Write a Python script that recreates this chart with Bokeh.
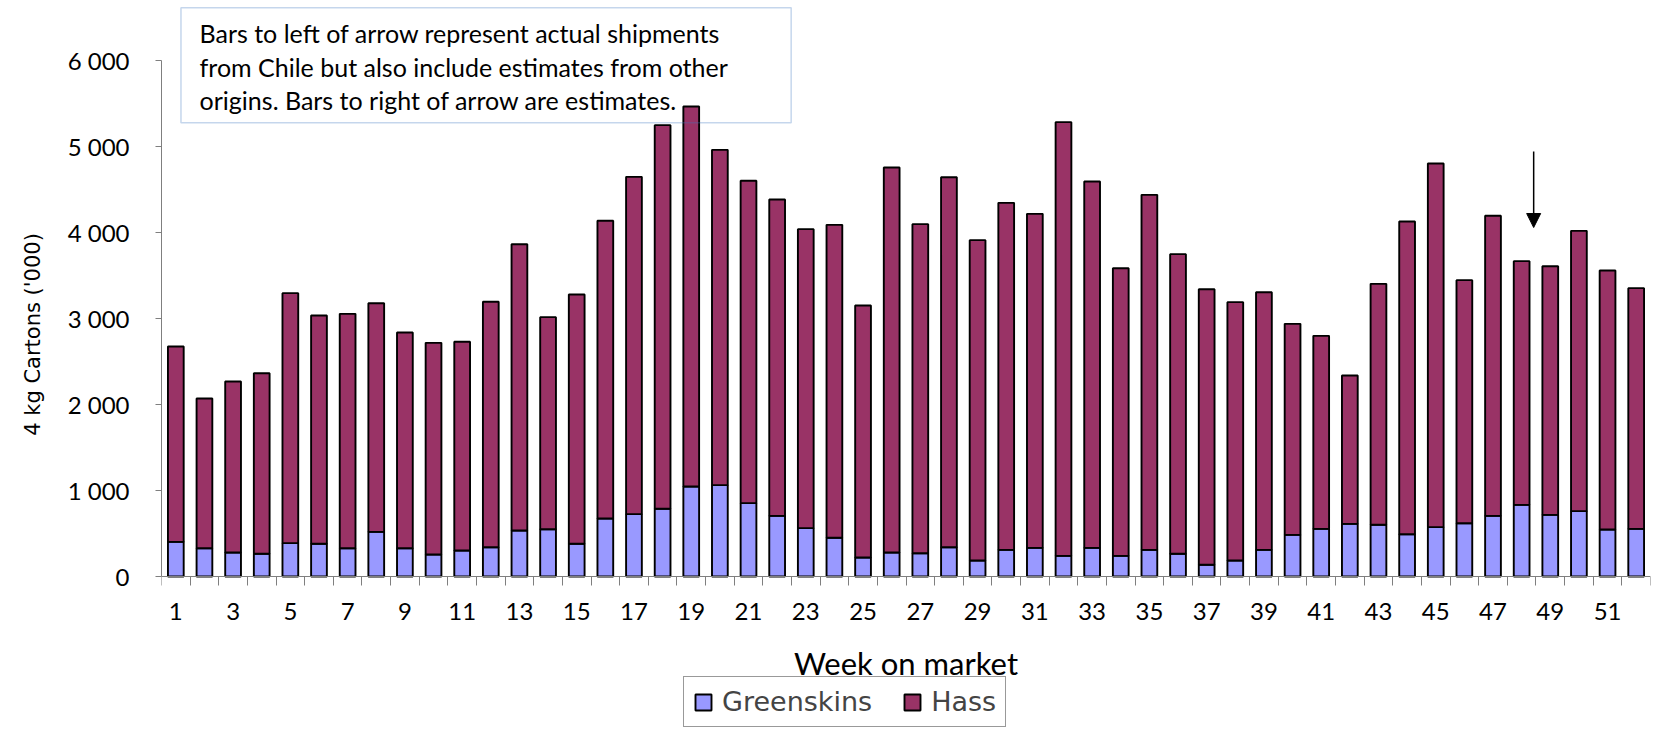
from bokeh.plotting import figure
from bokeh.models import (Range1d, FixedTicker, BoxAnnotation, Arrow, NormalHead,
                          Legend, LegendItem, ColumnDataSource)
from bokeh.core.properties import value
from bokeh.embed import file_html
from bokeh.resources import INLINE

# ---------------- data ----------------
weeks = list(range(1, 53))
greenskins = [403, 329, 279, 264, 388, 380, 329, 519, 329, 256, 302, 341, 535,
              550, 380, 674, 725, 787, 1047, 1062, 853, 705, 562, 450, 221, 279,
              271, 341, 186, 310, 333, 240, 333, 240, 310, 264, 136, 186, 310,
              484, 554, 612, 601, 492, 574, 620, 705, 833, 717, 760, 547, 554]
hass = [2271, 1741, 1988, 2100, 2907, 2655, 2725, 2659, 2508, 2461, 2427, 2853, 3329,
        2466, 2899, 3462, 3922, 4461, 4418, 3899, 3748, 3679, 3477, 3639, 2930, 4477,
        3826, 4302, 3725, 4035, 3884, 5043, 4260, 3345, 4128, 3484, 3205, 3004, 2996,
        2454, 2244, 1725, 2802, 3636, 4228, 2826, 3489, 2834, 2891, 3259, 3011, 2799]
series_names = ["Greenskins", "Hass"]
series_colors = ["#9999ff", "#993366"]
y_ticks = [0, 1000, 2000, 3000, 4000, 5000, 6000]
y_tick_labels = ["0", "1 000", "2 000", "3 000", "4 000", "5 000", "6 000"]
x_tick_weeks = weeks[::2]
x_title = "Week on market"
y_title = "4 kg Cartons ('000)"
note_lines = ["Bars to left of arrow represent actual shipments",
              "from Chile but also include estimates from other",
              "origins. Bars to right of arrow are estimates."]

src = ColumnDataSource(dict(week=weeks, Greenskins=greenskins, Hass=hass))

# ---------------- figure ----------------
# frame covers the full canvas height: 86 px per 1000 cartons, zero line at 576 px
p = figure(width=1654, height=728,
           x_range=Range1d(0.5, 52.5), y_range=Range1d(-1767.4, 6697.7),
           output_backend="svg", toolbar_location=None,
           min_border_left=161, min_border_right=4,
           min_border_top=0, min_border_bottom=0)
p.outline_line_color = None
p.xgrid.visible = False
p.ygrid.visible = False
p.background_fill_color = "white"
p.border_fill_color = "white"

rs = p.vbar_stack(series_names, x="week", width=0.55, source=src,
                  fill_color=series_colors, line_color="black", line_width=1.9)

# axes
axis_color = "#7f7f7f"
xa = p.xaxis[0]
xa.fixed_location = 0
xa.ticker = FixedTicker(ticks=x_tick_weeks,
                        minor_ticks=[w - 0.5 for w in weeks] + [weeks[-1] + 0.5])
xa.major_tick_out = 0
xa.major_tick_in = 0
xa.minor_tick_out = 9
xa.minor_tick_in = 0
xa.minor_tick_line_color = axis_color
xa.axis_line_color = axis_color
xa.major_label_text_font = "Lato"
xa.major_label_text_font_size = "24px"
xa.major_label_text_color = "black"
xa.major_label_standoff = 17
xa.axis_label = x_title
xa.axis_label_text_font = "Lato"
xa.axis_label_text_font_size = "31px"
xa.axis_label_text_font_style = "normal"
xa.axis_label_text_color = "black"
xa.axis_label_standoff = 21

ya = p.yaxis[0]
ya.ticker = FixedTicker(ticks=y_ticks, minor_ticks=[])
ya.major_label_overrides = dict(zip(y_ticks, y_tick_labels))
ya.bounds = (0, 6000)
ya.major_tick_out = 6
ya.major_tick_in = 0
ya.major_tick_line_color = axis_color
ya.axis_line_color = axis_color
ya.major_label_text_font = "Lato"
ya.major_label_text_font_size = "24px"
ya.major_label_text_color = "black"
ya.major_label_standoff = 26
# leading no-break spaces lift the centred title to sit beside the 0-6000 span
ya.axis_label = "\u00a0" * 9 + y_title
ya.axis_label_text_font = "DejaVu Sans"
ya.axis_label_text_font_size = "21px"
ya.axis_label_text_font_style = "normal"
ya.axis_label_text_color = "black"
ya.axis_label_standoff = 20

# note box
p.add_layout(BoxAnnotation(left=1.18, right=22.49, bottom=5276, top=6613,
                           fill_color=None, line_color="#3f78c0", line_width=1.5))
p.text(x=[1.83] * 3, y=[6314, 5919, 5535], text=note_lines,
       text_font=value("Lato"), text_font_size="25px",
       text_baseline="middle", text_align="left", text_color="black")

# arrow
p.add_layout(Arrow(end=NormalHead(size=14, fill_color="black", line_color="black"),
                   x_start=48.42, y_start=4942, x_end=48.42, y_end=4058,
                   line_color="black", line_width=1.5))

# legend
legend = Legend(items=[LegendItem(label=n, renderers=[r]) for n, r in zip(series_names, rs)],
                location=(522, 1), orientation="horizontal",
                label_text_font="DejaVu Sans", label_text_font_size="27px",
                glyph_width=20, glyph_height=20, label_standoff=9, spacing=30,
                padding=9, margin=0, border_line_color="#333333", border_line_width=1,
                background_fill_alpha=0.0)
p.add_layout(legend)

open("out.html", "w").write(file_html(p, INLINE))
